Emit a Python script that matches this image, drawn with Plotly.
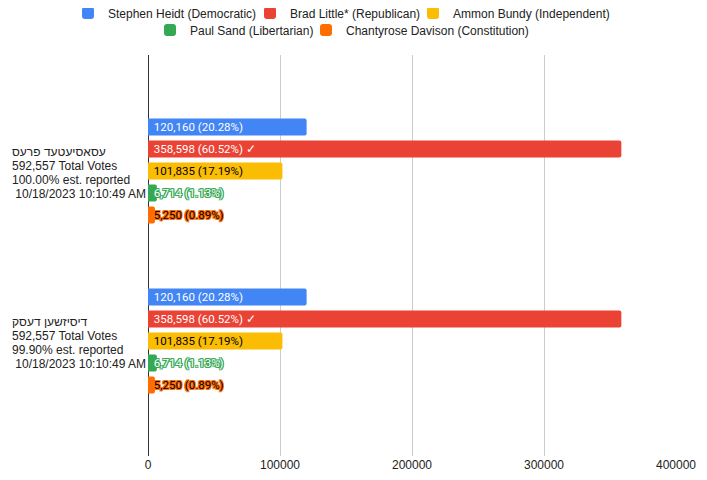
import plotly.graph_objects as go

# ---- data ----
sources = ["עסאסיעטעד פרעס", "דיסיזשען דעסק"]
total_votes = [592557, 592557]
reported_pct = [100.00, 99.90]
timestamps = ["10/18/2023 10:10:49 AM", "10/18/2023 10:10:49 AM"]

candidates = [
    "Stephen Heidt (Democratic)",
    "Brad Little* (Republican)",
    "Ammon Bundy (Independent)",
    "Paul Sand (Libertarian)",
    "Chantyrose Davison (Constitution)",
]
votes = [120160, 358598, 101835, 6714, 5250]
vote_pct = [20.28, 60.52, 17.19, 1.13, 0.89]
winner = [False, True, False, False, False]

colors = ["#4285F4", "#EA4335", "#FBBC04", "#34A853", "#FF6D01"]
text_colors = ["#ffffff", "#ffffff", "#000000", "#ffffff", "#000000"]
x_tick_vals = [0, 100000, 200000, 300000, 400000]

# page layout (page pixels; the figure sits at an 8px body offset)
OFF = 8
W, H = 699, 472
L, T = 148 - OFF, 55 - OFF
PW, PH = 528, 401
R, B = W - L - PW, H - T - PH
legend_square_x = [83, 265, 428, 165, 321]   # page px of legend square left edges
legend_row_y = [13, 13, 13, 30, 30]


def px_x(p):
    return (p - OFF - L) / PW


def px_y(p):
    return 1 + (T - (p - OFF)) / PH


def outline(c):
    offs = [(1, 0), (-1, 0), (0, 1), (0, -1), (1, 1), (-1, -1), (1, -1), (-1, 1)]
    return ", ".join(f"{a}px {b}px 0 {c}" for a, b in offs)


fig = go.Figure()
legend_layouts = {}
for i, name in enumerate(candidates):
    label = f" {votes[i]:,} ({vote_pct[i]:.2f}%)" + (" ✓" if winner[i] else "")
    small = vote_pct[i] < 5
    lg = "legend" if i == 0 else f"legend{i + 1}"
    fig.add_trace(go.Bar(
        name=name,
        y=sources,
        x=[votes[i]] * len(sources),
        orientation="h",
        marker=dict(color=colors[i], line=dict(width=0), cornerradius=2),
        text=[label] * len(sources),
        textposition="inside",
        insidetextanchor="start",
        constraintext="none",
        textangle=0,
        textfont=dict(family="Roboto", size=11.5, color=text_colors[i],
                      shadow=outline(colors[i]) if small else "none"),
        legend=lg,
        showlegend=True,
        hoverinfo="skip",
    ))
    legend_layouts[lg] = dict(
        orientation="h", x=px_x(legend_square_x[i] - 15), xanchor="left",
        y=px_y(legend_row_y[i]), yanchor="middle", bgcolor="rgba(0,0,0,0)",
        font=dict(family="Liberation Sans, Arial", size=12, color="#222222"),
    )

annotations = []
for j, src in enumerate(sources):
    lines = [src, f"{total_votes[j]:,} Total Votes",
             f"{reported_pct[j]:.2f}% est. reported", f" {timestamps[j]}"]
    for k, ln in enumerate(lines):
        annotations.append(dict(
            x=px_x(10), xref="paper", xanchor="left",
            y=src, yref="y", yanchor="middle", yshift=19 - 14 * k,
            text=ln, align="left", showarrow=False,
            font=dict(family="Liberation Sans, Arial", size=12, color="#222222"),
        ))

fig.update_layout(
    width=W, height=H,
    showlegend=True,
    margin=dict(l=L, r=R, t=T, b=B, autoexpand=False),
    paper_bgcolor="white", plot_bgcolor="white",
    barmode="group", bargap=0.353, bargroupgap=0.227,
    font=dict(family="Liberation Sans, Arial", size=12, color="#222222"),
    xaxis=dict(range=[0, 400000], tickvals=x_tick_vals, tickformat="d",
               showgrid=True, gridcolor="#cccccc", gridwidth=1,
               zeroline=True, zerolinecolor="#333333", zerolinewidth=1,
               showline=False, ticks="",
               tickfont=dict(family="Liberation Sans, Arial", size=12, color="#222222")),
    yaxis=dict(type="category", categoryorder="array", categoryarray=sources,
               range=[1.677, -0.682], showticklabels=False, showgrid=False,
               zeroline=False, showline=False, ticks=""),
    annotations=annotations,
    shapes=[dict(type="line", xref="paper", yref="paper",
                 x0=px_x(703.5), x1=px_x(703.5),
                 y0=px_y(480), y1=px_y(OFF),
                 line=dict(color="#dddddd", width=1))],
    **legend_layouts,
)

fig.write_html("out.html")
